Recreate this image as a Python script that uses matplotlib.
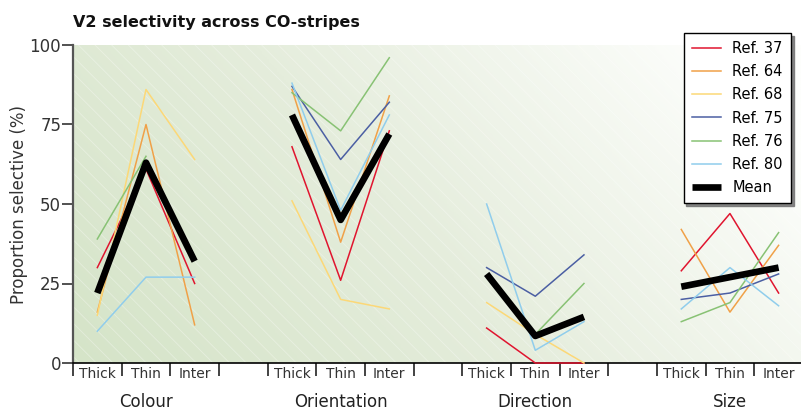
"""
V2 selectivity across CO-stripes: per-study proportions plus the mean.
"""
import numpy as np
import matplotlib.pyplot as plt
from matplotlib.patches import Rectangle
from matplotlib.colors import LinearSegmentedColormap
import matplotlib.transforms as mtransforms

nan = np.nan

# ---- data: 4 properties x (Thick, Thin, Inter) ----
properties = ["Colour", "Orientation", "Direction", "Size"]
stripes = ["Thick", "Thin", "Inter"]

ref37 = [30, 61, 25, 68, 26, 73, 11, 0, 0, 29, 47, 22]
ref64 = [16, 75, 12, 86, 38, 84, nan, nan, nan, 42, 16, 37]
ref68 = [15, 86, 64, 51, 20, 17, 19, 9, 0, nan, nan, nan]
ref75 = [nan, nan, nan, 87, 64, 82, 30, 21, 34, 20, 22, 28]
ref76 = [39, 65, nan, 85, 73, 96, nan, 9, 25, 13, 19, 41]
ref80 = [10, 27, 27, 88, 48, 78, 50, 4, 13, 17, 30, 18]
mean = [22, 63, 32, 78, 45, 72, 28, 8.5, 14.5, 24, 27, 30]

series = [
    ("Ref. 37", ref37, "#e0152f"),
    ("Ref. 64", ref64, "#f0a148"),
    ("Ref. 68", ref68, "#fcd877"),
    ("Ref. 75", ref75, "#4b5fa3"),
    ("Ref. 76", ref76, "#88c274"),
    ("Ref. 80", ref80, "#90cdec"),
]

plt.rcParams["font.family"] = ["DejaVu Sans"]
plt.rcParams["hatch.linewidth"] = 0.6

fig = plt.figure(figsize=(8.01, 4.13), dpi=100)
ax = fig.add_axes([73 / 801, 50 / 413, 1 - 73 / 801, 318 / 413])

XMAX = 14.96
ax.set_xlim(0, XMAX)
ax.set_ylim(0, 100)

# gradient background (green lower-left -> white upper-right)
gx, gy = np.meshgrid(np.linspace(0, 1, 300), np.linspace(0, 1, 150))
t = np.clip(0.8 * gx + 0.3 * gy, 0, 1)
cmap = LinearSegmentedColormap.from_list("bg", ["#d5e4c8", "#e5eddc", "#fdfefc"])
ax.imshow(t, extent=[0, XMAX, 0, 100], origin="lower", aspect="auto",
          cmap=cmap, vmin=0, vmax=1, zorder=0)
ax.add_patch(Rectangle((0, 0), XMAX, 100, facecolor="none", hatch="\\\\",
                       edgecolor=(1, 1, 1, 0.35), linewidth=0, zorder=0.5))

# x positions: groups of three with a one-slot gap
xs = []
for g in range(len(properties)):
    for s in range(len(stripes)):
        xs.append(g * 4 + s + 0.5)
xs = np.array(xs)


def draw(vals, **kw):
    vals = np.array(vals, dtype=float)
    for g in range(len(properties)):
        sl = slice(g * 3, g * 3 + 3)
        line, = ax.plot(xs[sl], vals[sl], clip_on=False, **kw)
        kw.pop("label", None)
    return line


for name, vals, color in series:
    draw(vals, color=color, lw=1.1, label=name, zorder=3)
draw(mean, color="black", lw=4.8, label="Mean", zorder=4,
     solid_capstyle="butt")

# axes styling
for side in ("top", "right"):
    ax.spines[side].set_visible(False)
ax.spines["left"].set_color("#555555")
ax.spines["left"].set_linewidth(1.6)
ax.spines["bottom"].set_color("black")
ax.spines["bottom"].set_linewidth(1.2)

ax.set_yticks([0, 25, 50, 75, 100])
ax.tick_params(axis="y", length=8, width=1.2, colors="#333333",
               labelsize=12, pad=0.5)
ax.set_xticks(np.arange(0, 15))
ax.set_xticklabels([])
ax.set_xticks(xs, minor=True)
ax.set_xticklabels(stripes * len(properties), minor=True)
ax.tick_params(axis="x", which="major", length=9, width=1.2, color="#222222")
ax.tick_params(axis="x", which="minor", length=0, pad=3, labelsize=10,
               labelcolor="#333333")

ax.set_ylabel("Proportion selective (%)", fontsize=12, color="#333333")
ax.yaxis.set_label_coords(-45 / 728, 0.5)

trans = mtransforms.blended_transform_factory(ax.transData, fig.transFigure)
for g, prop in enumerate(properties):
    ax.text(g * 4 + 1.5, 2 / 413, prop, transform=trans, ha="center",
            va="bottom", fontsize=12, color="#222222")

fig.text(73 / 801, 1 - 22 / 413, "V2 selectivity across CO-stripes",
         fontsize=11.5, fontweight="bold", ha="left", va="center",
         color="#111111")

leg = ax.legend(loc="upper right", bbox_to_anchor=(791 / 801, 1 - 33 / 413),
                bbox_transform=fig.transFigure, borderaxespad=0,
                fancybox=False, shadow={"color": "#777777", "alpha": 0.9},
                edgecolor="black", framealpha=1, fontsize=10.5,
                handlelength=2.0, labelspacing=0.56, borderpad=0.55)
leg.get_frame().set_linewidth(1.0)

fig.savefig("out.png", dpi=100)
